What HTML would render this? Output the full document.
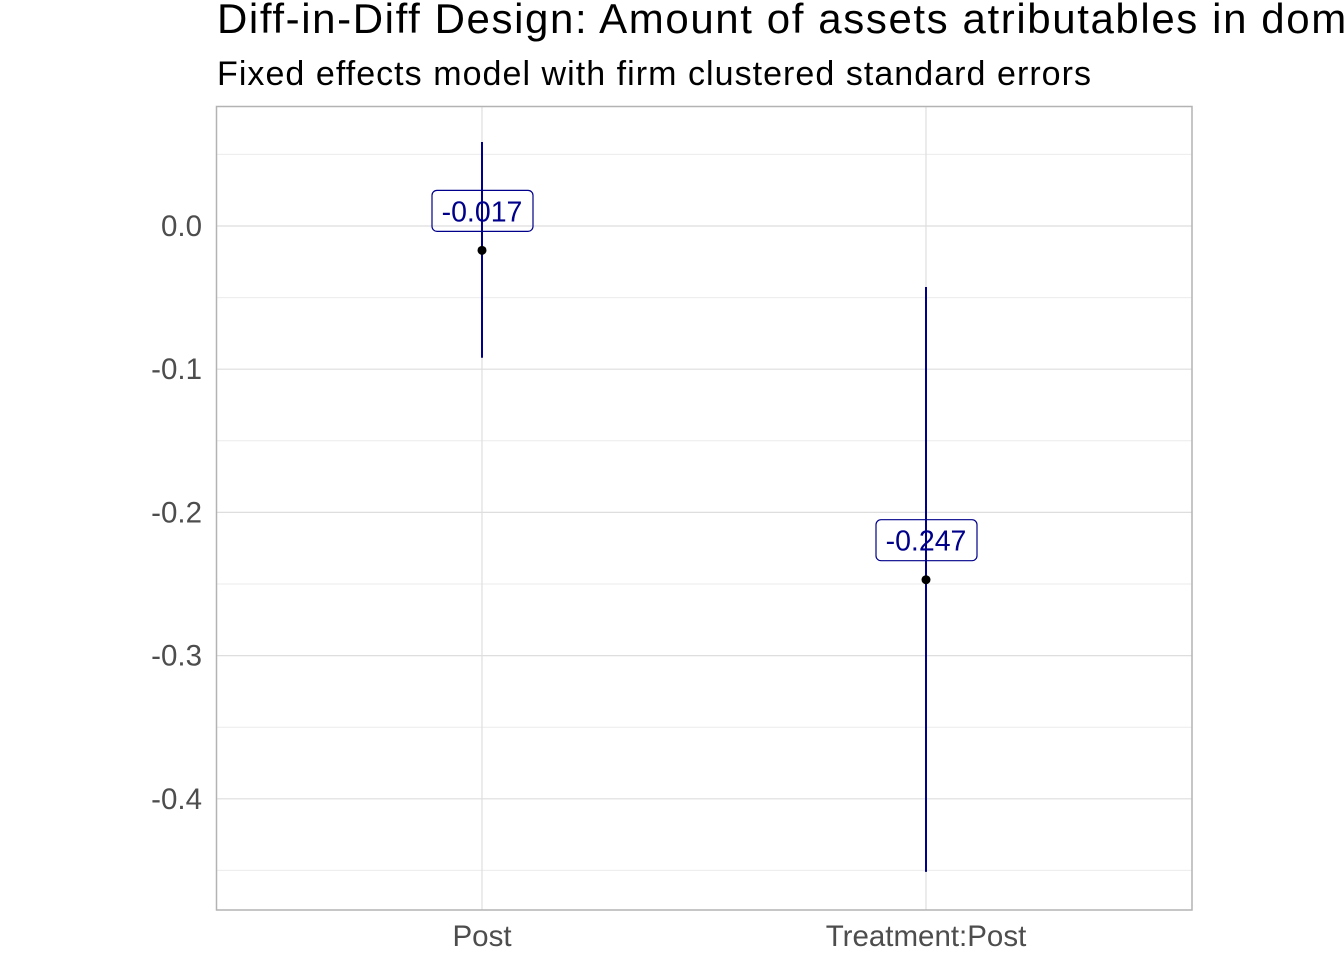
<!DOCTYPE html>
<html><head><meta charset="utf-8"><style>
body{margin:0;background:#fff;}
svg{display:block;font-family:"Liberation Sans",Arial,sans-serif;}
</style></head><body>
<svg id="chart" width="1344" height="960" viewBox="0 0 1344 960">
<text x="217" y="33" font-size="42" letter-spacing="1.6" fill="#000">Diff-in-Diff Design: Amount of assets atributables in domestic firms</text>
<text x="217" y="85" font-size="34" textLength="874" lengthAdjust="spacing" fill="#000">Fixed effects model with firm clustered standard errors</text>
<g id="grid"></g>
<g id="marks"></g>
<rect x="216.5" y="106.5" width="975.5" height="803.5" fill="none" stroke="#b3b3b3" stroke-width="1.5"/>
</svg>
<script>
const categories = ["Post", "Treatment:Post"];
const estimates = [-0.017, -0.247];
const ciLow = [-0.092, -0.451];
const ciHigh = [0.0587, -0.0426];
const yTicks = [0.0, -0.1, -0.2, -0.3, -0.4];
const yTickLabels = ["0.0", "-0.1", "-0.2", "-0.3", "-0.4"];

const NS = "http://www.w3.org/2000/svg";
const px0 = 216, px1 = 1192, py0 = 106, py1 = 910;
function y(v){ return 226 - v * 1432; }
function x(i){ return 482 + i * 444; }
function mk(tag, attrs, parent){
  const e = document.createElementNS(NS, tag);
  for (const k in attrs) e.setAttribute(k, attrs[k]);
  parent.appendChild(e); return e;
}
const grid = document.getElementById('grid');
const marks = document.getElementById('marks');
for (let i = 0; i < yTicks.length + 1; i++) {
  const v = 0.05 - i * 0.1;
  const l = mk('line', {x1: px0, x2: px1, y1: y(v), y2: y(v), stroke: '#ebebeb', 'stroke-width': 1}, grid);
  
  
}
yTicks.forEach((v, i) => {
  const l = mk('line', {x1: px0, x2: px1, y1: y(v), y2: y(v), stroke: '#dedede', 'stroke-width': 1.2}, grid);
  
  
  const t = mk('text', {x: 202, y: y(v) + 10, 'text-anchor': 'end', 'font-size': 29.5, fill: '#4d4d4d'}, grid);
  t.textContent = yTickLabels[i];
  
  
});
categories.forEach((c, i) => {
  const l = mk('line', {x1: x(i), x2: x(i), y1: py0, y2: py1, stroke: '#dedede', 'stroke-width': 1.2}, grid);
  
  
  const t = mk('text', {x: x(i), y: 946, 'text-anchor': 'middle', 'font-size': 29.5, fill: '#4d4d4d'}, grid);
  t.textContent = c;
  
  
});
categories.forEach((c, i) => {
  const ci = mk('line', {x1: x(i), x2: x(i), y1: y(ciHigh[i]), y2: y(ciLow[i]), stroke: '#00008b', 'stroke-width': 2}, marks);
  
  
  const p = mk('circle', {cx: x(i), cy: y(estimates[i]), r: 4.5, fill: '#000'}, marks);
  
  
  const cy = y(estimates[i]) - 39;
  const b = mk('rect', {x: x(i) - 50, y: cy - 21, width: 101, height: 41, rx: 5, fill: '#fff', 'fill-opacity': 0, stroke: '#00008b', 'stroke-width': 1.2}, marks);
  
  
  const t = mk('text', {x: x(i), y: cy + 10, 'text-anchor': 'middle', 'font-size': 28.5, fill: '#00008b'}, marks);
  t.textContent = estimates[i].toFixed(3);
  
  
});
</script>
</body></html>
